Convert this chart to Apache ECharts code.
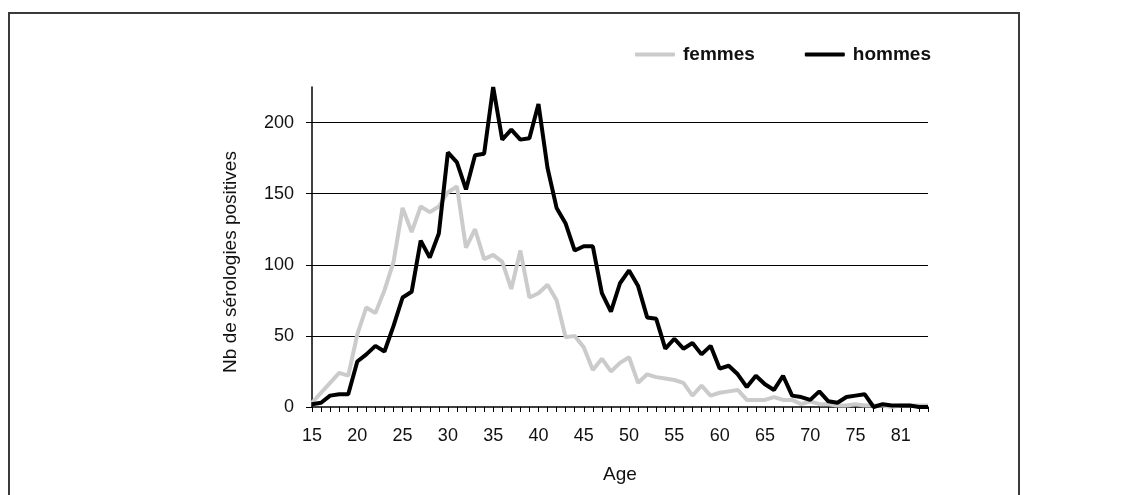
<!DOCTYPE html>
<html>
<head>
<meta charset="utf-8">
<script src="https://cdn.jsdelivr.net/npm/echarts@6/dist/echarts.min.js"></script>
<style>
html,body{margin:0;padding:0;background:#fff;}
#chart{width:1128px;height:495px;}
</style>
</head>
<body>
<div id="chart"></div>
<script>
// Ages (categories); one age between 76 and 81 is absent from the source axis
const ages = ['15','16','17','18','19','20','21','22','23','24','25','26','27','28','29','30','31','32','33','34','35','36','37','38','39','40','41','42','43','44','45','46','47','48','49','50','51','52','53','54','55','56','57','58','59','60','61','62','63','64','65','66','67','68','69','70','71','72','73','74','75','76','77','78','79','81','82','83','84'];
const femmes = [3,10,17,24,22,51,70,66,82,102,140,123,141,137,141,151,155,112,125,104,107,102,83,110,77,80,86,75,49,50,42,26,34,25,31,35,17,23,21,20,19,17,8,15,8,10,11,12,5,5,5,7,5,5,2,4,2,2,1,1,2,1,1,1,0,1,1,1,1];
const hommes = [2,3,8,9,9,32,37,43,39,57,77,81,117,105,122,179,172,153,177,178,225,188,195,188,189,213,168,140,129,110,113,113,80,67,87,96,85,63,62,41,48,41,45,37,43,27,29,23,14,22,16,12,22,8,7,5,11,4,3,7,8,9,0,2,1,1,1,0,0];
const yTicks = [0,50,100,150,200];
const yMax = 225;
const seriesNames = ['femmes','hommes'];
const xName = 'Age';
const yName = 'Nb de sérologies positives';

const font = '"Liberation Sans", Arial, Helvetica, sans-serif';
const chart = echarts.init(document.getElementById('chart'), null, {renderer:'canvas'});
chart.setOption({
  animation:false,
  backgroundColor:'#ffffff',
  textStyle:{fontFamily:font},
  graphic:[
    {type:'rect', shape:{x:9, y:13, width:1010, height:500}, style:{fill:'none', stroke:'#3a3a3a', lineWidth:2}, silent:true},
    {type:'text', x:231, y:262, rotation:Math.PI/2, style:{text:yName, font:'19px '+font, fill:'#111', align:'center', verticalAlign:'middle'}}
  ],
  legend:{
    data:seriesNames,
    left:630, top:40,
    itemWidth:40, itemHeight:4, itemGap:50,
    icon:'roundRect',
    textStyle:{fontSize:19, fontWeight:'bold', color:'#111', fontFamily:font, padding:[0,0,0,3]}
  },
  grid:{left:312, right:200, top:87, bottom:88, containLabel:false},
  xAxis:{
    type:'category', data:ages, boundaryGap:false,
    name:xName, nameLocation:'middle', nameGap:58,
    nameTextStyle:{fontSize:19, color:'#111', fontFamily:font},
    axisLine:{lineStyle:{color:'#000', width:1.5}},
    axisTick:{show:true, interval:0, length:5, lineStyle:{color:'#000', width:1}},
    axisLabel:{interval:4, fontSize:18, color:'#111', margin:20, fontFamily:font},
    splitLine:{show:false}
  },
  yAxis:{
    type:'value', min:yTicks[0], max:yMax, interval:yTicks[1]-yTicks[0],
    axisLine:{show:true, lineStyle:{color:'#000', width:1.5}},
    axisTick:{show:true, length:6, lineStyle:{color:'#000', width:1}},
    axisLabel:{fontSize:18, color:'#111', margin:18, showMaxLabel:false, fontFamily:font},
    splitLine:{show:true, showMinLine:false, showMaxLine:false, lineStyle:{color:'#000', width:1}}
  },
  series:[
    {name:seriesNames[0], type:'line', data:femmes, symbol:'none', z:2,
     lineStyle:{color:'#cbcbcb', width:4}, itemStyle:{color:'#cbcbcb'}},
    {name:seriesNames[1], type:'line', data:hommes, symbol:'none', z:3,
     lineStyle:{color:'#000', width:4}, itemStyle:{color:'#000'}}
  ]
});
</script>
</body>
</html>
